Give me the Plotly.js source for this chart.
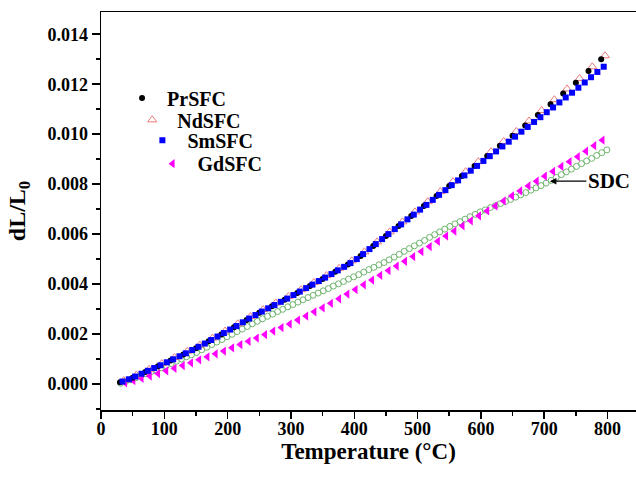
<!DOCTYPE html>
<html><head><meta charset="utf-8">
<script src="https://cdn.plot.ly/plotly-3.0.1.min.js"></script>
<style>html,body{margin:0;padding:0;background:#fff}#chart{width:636px;height:478px}</style>
</head><body><div id="chart"></div><script>
// dL/L0 values are listed in units of 1e-3
const prT = [30,50,70,90,110,130,150,170,190,210,230,250,270,290,310,330,350,370,390,410,430,450,470,490,510,530,550,570,590,610,630,650,670,690,710,730,750,770,790];
const prY = [0.07,0.25,0.48,0.71,0.94,1.18,1.43,1.71,1.98,2.27,2.56,2.85,3.11,3.37,3.64,3.92,4.20,4.49,4.78,5.12,5.52,5.92,6.32,6.72,7.13,7.53,7.93,8.33,8.73,9.13,9.54,9.94,10.35,10.77,11.20,11.63,12.06,12.53,13.00];

const ndT = [36,56,76,96,116,136,156,176,196,216,236,256,276,296,316,336,356,376,396,416,436,456,476,496,516,536,556,576,596,616,636,656,676,696,716,736,756,776,796];
const ndY = [0.14,0.36,0.59,0.82,1.06,1.31,1.56,1.84,2.12,2.41,2.70,2.98,3.24,3.50,3.78,4.06,4.34,4.63,4.93,5.29,5.69,6.09,6.49,6.89,7.30,7.70,8.10,8.50,8.90,9.30,9.71,10.11,10.53,10.95,11.38,11.81,12.23,12.70,13.14];

const smT = [34,44,54,64,74,84,94,104,114,124,134,144,154,164,174,184,194,204,214,224,234,244,254,264,274,284,294,304,314,324,334,344,354,364,374,384,394,404,414,424,434,444,454,464,474,484,494,504,514,524,534,544,554,564,574,584,594,604,614,624,634,644,654,664,674,684,694,704,714,724,734,744,754,764,774,784,794];
const smY = [0.10,0.19,0.30,0.41,0.53,0.64,0.75,0.87,0.99,1.11,1.23,1.36,1.49,1.62,1.76,1.90,2.04,2.18,2.32,2.47,2.62,2.76,2.90,3.03,3.16,3.29,3.42,3.56,3.70,3.84,3.98,4.12,4.26,4.40,4.55,4.69,4.84,5.00,5.20,5.40,5.60,5.80,6.00,6.20,6.39,6.59,6.78,6.98,7.17,7.37,7.57,7.76,7.96,8.15,8.35,8.54,8.73,8.93,9.12,9.31,9.51,9.70,9.90,10.10,10.29,10.49,10.68,10.88,11.07,11.27,11.47,11.66,11.86,12.07,12.28,12.49,12.70];

const gdT = [38,51,64,77,90,103,116,129,142,155,168,181,194,207,220,233,246,259,272,285,298,311,324,337,350,363,376,389,402,415,428,441,454,467,480,493,506,519,532,545,558,571,584,597,610,623,636,649,662,675,688,701,714,727,740,753,766,779,792];
const gdY = [0.05,0.14,0.23,0.32,0.42,0.53,0.63,0.74,0.85,0.97,1.09,1.21,1.32,1.45,1.58,1.71,1.84,1.98,2.12,2.26,2.40,2.56,2.72,2.89,3.05,3.23,3.41,3.60,3.78,3.97,4.16,4.35,4.54,4.72,4.91,5.10,5.30,5.50,5.71,5.92,6.12,6.33,6.53,6.73,6.93,7.13,7.33,7.53,7.73,7.93,8.12,8.32,8.51,8.71,8.90,9.10,9.32,9.54,9.76];

const sdcT = [31,39,47,55,63,71,79,87,95,103,111,119,127,135,143,151,159,167,175,183,191,199,207,215,223,231,239,247,255,263,271,279,287,295,303,311,319,327,335,343,351,359,367,375,383,391,399,407,415,423,431,439,447,455,463,471,479,487,495,503,511,519,527,535,543,551,559,567,575,583,591,599,607,615,623,631,639,647,655,663,671,679,687,695,703,711,719,727,735,743,751,759,767,775,783,791,799];
const sdcY = [0.03,0.10,0.17,0.25,0.33,0.41,0.49,0.57,0.65,0.73,0.82,0.91,1.00,1.09,1.17,1.26,1.37,1.47,1.58,1.68,1.78,1.89,1.99,2.10,2.20,2.30,2.41,2.51,2.61,2.71,2.80,2.90,2.99,3.09,3.18,3.28,3.37,3.46,3.55,3.64,3.73,3.82,3.92,4.01,4.10,4.20,4.29,4.38,4.48,4.58,4.67,4.77,4.86,4.97,5.08,5.19,5.31,5.42,5.53,5.64,5.75,5.87,5.98,6.09,6.20,6.31,6.41,6.50,6.60,6.70,6.79,6.89,6.97,7.06,7.14,7.22,7.31,7.39,7.48,7.57,7.66,7.76,7.85,7.94,8.04,8.15,8.27,8.38,8.49,8.60,8.71,8.82,8.93,9.03,9.15,9.26,9.37];

const xTickVals = [0,100,200,300,400,500,600,700,800];
const yTickVals = [0,0.002,0.004,0.006,0.008,0.010,0.012,0.014];

const milli = a => a.map(v => v / 1000);
const FONT = 'Liberation Serif, "Times New Roman", serif';

const traces = [
  {x: sdcT, y: milli(sdcY), name: 'SDC', mode: 'markers', showlegend: false,
   marker: {symbol: 'circle-open', size: 6, color: '#6fb56f', line: {width: 1}}},
  {x: gdT, y: milli(gdY), name: 'GdSFC', mode: 'markers', legend: 'legend4',
   marker: {symbol: 'triangle-left', size: 8, color: '#ff00ff'}},
  {x: ndT, y: milli(ndY), name: 'NdSFC', mode: 'markers', legend: 'legend2',
   marker: {symbol: 'triangle-up-open', size: 8, color: '#ee7b7b', line: {width: 1}}},
  {x: prT, y: milli(prY), name: 'PrSFC', mode: 'markers', legend: 'legend',
   marker: {symbol: 'circle', size: 6, color: '#000000'}},
  {x: smT, y: milli(smY), name: 'SmSFC', mode: 'markers', legend: 'legend3',
   marker: {symbol: 'square', size: 6, color: '#0000ff'}}
];

function leg(x, y) {
  return {x: x, y: y, xanchor: 'left', yanchor: 'middle', bgcolor: 'rgba(0,0,0,0)',
    borderwidth: 0, itemwidth: 40, font: {family: FONT, size: 20, color: '#000', weight: 'bold'}};
}

const layout = {
  width: 636, height: 478,
  margin: {l: 101, r: 0, t: 12, b: 68},
  paper_bgcolor: '#fff', plot_bgcolor: '#fff',
  font: {family: FONT, color: '#000', weight: 'bold'},
  showlegend: true,
  legend: leg(0.030, 0.784),
  legend2: leg(0.049, 0.729),
  legend3: leg(0.068, 0.678),
  legend4: leg(0.087, 0.619),
  xaxis: {
    range: [0, 845], showline: true, mirror: true, linecolor: '#000', linewidth: 1.5,
    ticks: 'outside', ticklen: 7, tickwidth: 1.5, tickcolor: '#000',
    tickmode: 'array', tickvals: xTickVals, ticklabelstandoff: -5,
    minor: {ticks: 'outside', ticklen: 4, tickwidth: 1.5, dtick: 50, tick0: 0, tickcolor: '#000'},
    showgrid: false, zeroline: false,
    tickfont: {family: FONT, size: 18, weight: 'bold'},
    title: {text: 'Temperature (°C)', font: {family: FONT, size: 23, weight: 'bold'}, standoff: 0}
  },
  yaxis: {
    range: [-0.00104, 0.01489], showline: true, linecolor: '#000', linewidth: 1.5,
    ticks: 'outside', ticklen: 8, tickwidth: 1.5, tickcolor: '#000',
    tickmode: 'array', tickvals: yTickVals, tickformat: '.3f',
    minor: {ticks: 'outside', ticklen: 4, tickwidth: 1.5, dtick: 0.001, tick0: 0, tickcolor: '#000'},
    showgrid: false, zeroline: false,
    tickfont: {family: FONT, size: 18, weight: 'bold'},
    title: {text: 'dL/L<sub>0</sub>', font: {family: FONT, size: 24, weight: 'bold'}, standoff: 15}
  },
  annotations: [{
    x: 709, y: 0.00812, xref: 'x', yref: 'y', text: 'SDC', showarrow: true,
    arrowhead: 2, arrowsize: 1, arrowwidth: 1.3, arrowcolor: '#000', standoff: 0,
    ax: 59, ay: 0, font: {family: FONT, size: 21, weight: 'bold', color: '#000'}
  }]
};

Plotly.newPlot('chart', traces, layout, {displayModeBar: false, staticPlot: true});
</script></body></html>
